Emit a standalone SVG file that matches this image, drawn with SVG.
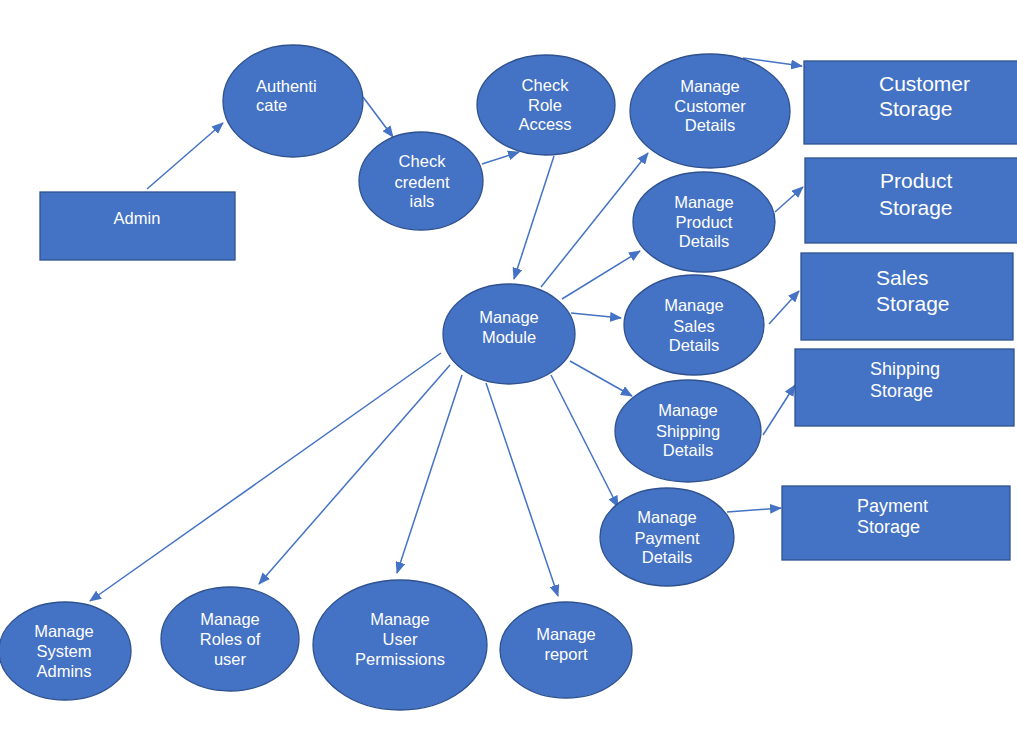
<svg xmlns="http://www.w3.org/2000/svg" width="1017" height="749" viewBox="0 0 1017 749">
<style>
.n{fill:#4472C4;stroke:#2F528F;stroke-width:1.3}
.t{fill:#fff;font-family:"Liberation Sans",Arial,sans-serif;font-size:16.5px;text-anchor:middle}
.tl{fill:#fff;font-family:"Liberation Sans",Arial,sans-serif;font-size:16.5px}
.s1{fill:#fff;font-family:"Liberation Sans",Arial,sans-serif;font-size:21px}
.s2{fill:#fff;font-family:"Liberation Sans",Arial,sans-serif;font-size:18px}
.c line{stroke:#4472C4;stroke-width:1.5;marker-end:url(#a)}
</style>
<defs>
<marker id="a" markerUnits="userSpaceOnUse" markerWidth="12" markerHeight="10" refX="11" refY="5" orient="auto">
<path d="M0,0 L12,5 L0,10 Z" fill="#4472C4"/>
</marker>
</defs>
<rect width="1017" height="749" fill="#fff"/>
<g class="c">
<line x1="147" y1="189" x2="223" y2="123"/>
<line x1="363" y1="97" x2="393" y2="137"/>
<line x1="482" y1="164" x2="519" y2="152"/>
<line x1="554" y1="156" x2="514" y2="279"/>
<line x1="541" y1="287" x2="648" y2="153"/>
<line x1="743" y1="58" x2="802" y2="66"/>
<line x1="562" y1="299" x2="640" y2="251"/>
<line x1="775" y1="212" x2="803" y2="187"/>
<line x1="571" y1="313" x2="621" y2="318"/>
<line x1="769" y1="324" x2="799" y2="291"/>
<line x1="570" y1="361" x2="632" y2="396"/>
<line x1="763" y1="435" x2="795" y2="385"/>
<line x1="551" y1="375" x2="618" y2="507"/>
<line x1="727" y1="512" x2="781" y2="508"/>
<line x1="441" y1="353" x2="90" y2="601"/>
<line x1="450" y1="365" x2="259" y2="584"/>
<line x1="462" y1="375" x2="397" y2="573"/>
<line x1="486" y1="383" x2="558" y2="596"/>
</g>
<g id="admin"><rect class="n" x="40" y="192" width="195" height="68"/><text class="t" x="137" y="224">Admin</text></g>
<g id="authenticate"><ellipse class="n" cx="293" cy="101" rx="70" ry="56"/><text class="tl" x="256" y="92">Authenti</text><text class="tl" x="256" y="111">cate</text></g>
<g id="checkcred"><ellipse class="n" cx="421" cy="181" rx="62" ry="49"/><text class="t" x="422" y="167">Check</text><text class="t" x="422" y="188">credent</text><text class="t" x="422" y="207">ials</text></g>
<g id="checkrole"><ellipse class="n" cx="546" cy="105" rx="69" ry="50"/><text class="t" x="545" y="91">Check</text><text class="t" x="545" y="111">Role</text><text class="t" x="545" y="130">Access</text></g>
<g id="module"><ellipse class="n" cx="509" cy="334" rx="66" ry="50"/><text class="t" x="509" y="323">Manage</text><text class="t" x="509" y="343">Module</text></g>
<g id="customer"><ellipse class="n" cx="710" cy="111" rx="80" ry="57"/><text class="t" x="710" y="92">Manage</text><text class="t" x="710" y="112">Customer</text><text class="t" x="710" y="131">Details</text></g>
<g id="product"><ellipse class="n" cx="704" cy="222" rx="71" ry="50"/><text class="t" x="704" y="208">Manage</text><text class="t" x="704" y="228">Product</text><text class="t" x="704" y="247">Details</text></g>
<g id="sales"><ellipse class="n" cx="694" cy="325" rx="70" ry="50"/><text class="t" x="694" y="311">Manage</text><text class="t" x="694" y="332">Sales</text><text class="t" x="694" y="351">Details</text></g>
<g id="shipping"><ellipse class="n" cx="688" cy="431" rx="73" ry="51"/><text class="t" x="688" y="416">Manage</text><text class="t" x="688" y="437">Shipping</text><text class="t" x="688" y="456">Details</text></g>
<g id="payment"><ellipse class="n" cx="667" cy="537" rx="67" ry="49"/><text class="t" x="667" y="523">Manage</text><text class="t" x="667" y="544">Payment</text><text class="t" x="667" y="563">Details</text></g>
<g id="custstorage"><rect class="n" x="804" y="61" width="214" height="83"/><text class="s1" x="879" y="91">Customer</text><text class="s1" x="879" y="116">Storage</text></g>
<g id="prodstorage"><rect class="n" x="805" y="158" width="213" height="85"/><text class="s1" x="880" y="188">Product</text><text class="s1" x="879" y="215">Storage</text></g>
<g id="salesstorage"><rect class="n" x="801" y="253" width="212" height="87"/><text class="s1" x="876" y="285">Sales</text><text class="s1" x="876" y="311">Storage</text></g>
<g id="shipstorage"><rect class="n" x="795" y="349" width="219" height="77"/><text class="s2" x="870" y="375">Shipping</text><text class="s2" x="870" y="397">Storage</text></g>
<g id="paystorage"><rect class="n" x="782" y="486" width="228" height="74"/><text class="s2" x="857" y="512">Payment</text><text class="s2" x="857" y="533">Storage</text></g>
<g id="sysadmins"><ellipse class="n" cx="65" cy="651" rx="66" ry="49"/><text class="t" x="64" y="637">Manage</text><text class="t" x="64" y="657">System</text><text class="t" x="64" y="677">Admins</text></g>
<g id="roles"><ellipse class="n" cx="230" cy="639" rx="69" ry="52"/><text class="t" x="230" y="625">Manage</text><text class="t" x="230" y="645">Roles of</text><text class="t" x="230" y="665">user</text></g>
<g id="perms"><ellipse class="n" cx="400" cy="645" rx="87" ry="65"/><text class="t" x="400" y="625">Manage</text><text class="t" x="400" y="645">User</text><text class="t" x="400" y="665">Permissions</text></g>
<g id="report"><ellipse class="n" cx="566" cy="650" rx="66" ry="48"/><text class="t" x="566" y="640">Manage</text><text class="t" x="566" y="660">report</text></g>
</svg>
